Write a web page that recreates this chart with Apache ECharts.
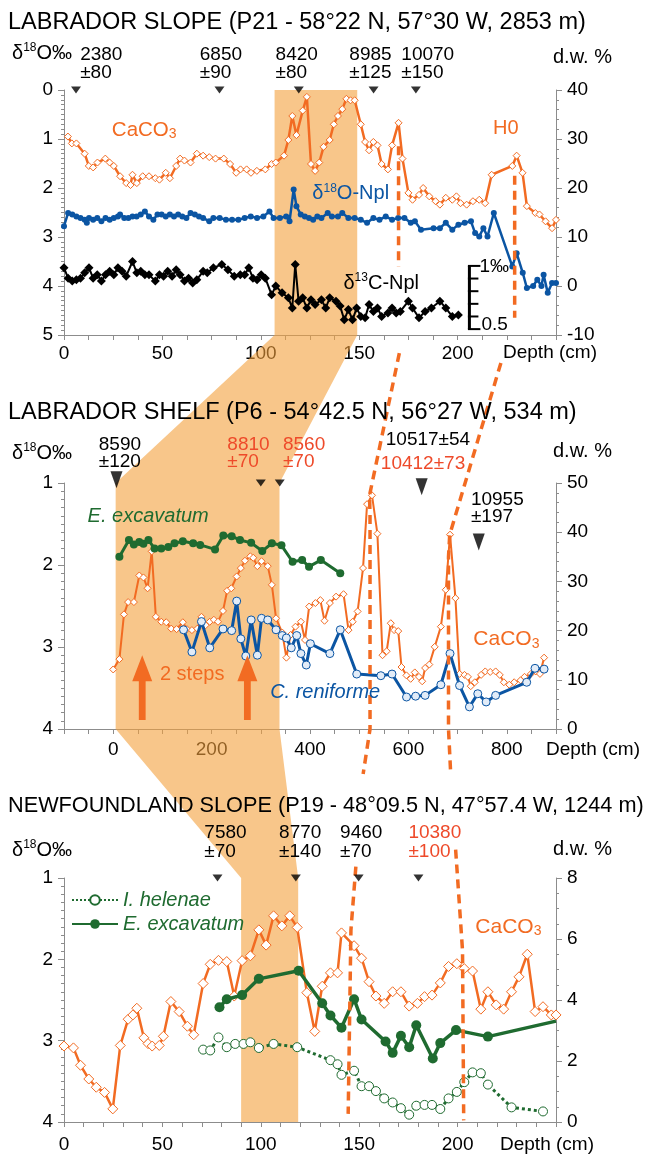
<!DOCTYPE html>
<html>
<head>
<meta charset="utf-8">
<script src="https://cdn.jsdelivr.net/npm/echarts@6/dist/echarts.min.js"></script>
<style>
  html, body { margin: 0; padding: 0; background: #fff; }
  #chart { width: 645px; height: 1155px; }
</style>
</head>
<body>
<div id="chart"></div>
<script>
// ---- P21 Labrador slope ----
const p21CaDepth = [2,4,6.3,10.5,12.6,14.8,17,21,23.2,25.3,28.5,31.6,33.8,34.8,37,40,43.2,46.4,48.5,51.7,53.8,57,59,61.2,64.3,67.5,70.7,73.8,77,81.2,84.4,87.5,89.7,92.8,95,98,102.3,105.5,107.6,111.8,114,116,118.1,121.3,123.4,125.5,127.6,129.7,131.9,135,137.1,139.2,141.4,143.5,145.6,147.7,150.8,153,155,157.2,159.3,161.4,164.6,166.7,170,172,175,177.1,180.4,182.5,185.6,188.8,191,194,197.3,199.4,201.5,204.6,207.8,211,214,217.3,227.8,230,233,235.2,239.5,241.6,244.7,248,250]
const p21CaValue = [30.5,29.1,29.1,27,24.5,24.2,25.2,26,25.2,24.5,22.4,21,20.6,22.7,21,22.4,22.4,22,21.7,23.1,22,24.5,26,25.6,25.2,27,26.6,26.3,26,26,24.9,23.1,23.8,23.8,23.1,23.5,23.8,24.9,25.2,26.6,29.8,34.7,30.8,35.8,38.6,24.9,23.5,25.2,28.4,29.8,33,34.7,36.1,38.2,37.9,37.9,33,29.4,27.7,29.4,28.7,24.9,23.8,28.7,33.3,26,19,17.6,18.6,20,18.3,17.3,16.6,18,17.6,18.3,16.9,16.6,17.3,17.6,16.9,22.7,24.5,26.6,23.1,16.3,14.9,14.6,13.2,11.8,13.5]
const p21NplDepth = [0,2.1,4.2,6.3,8.4,10.5,11.6,12.7,14.8,16.9,19,21.1,23.2,25.3,27.4,28.5,30.6,32.7,34.8,36.9,39,41.1,43.2,45.4,47.5,49.6,51.7,53.8,55.9,58,60.1,62.2,64.3,66.5,68.6,70.7,73.8,75.9,79.1,82.3,85.4,88.6,91.8,94.9,98.1,101.3,104.4,106.5,109.7,112.9,114.6,116.7,118.1,120.3,122.4,124.5,126.6,128.7,130.8,134,136.1,139.2,141.4,144.5,147.7,150.8,154,157.2,160.3,163.5,166.7,169.8,173,176.2,178.3,181.4,187.8,191,194,197.3,200.4,203.6,206.8,208.9,211,213.1,215.2,218.4,227.8,230,233.1,235.2,238.4,240.5,242.6,243.7,245.8,248,250]
const p21NplO18 = [2.78,2.51,2.54,2.58,2.61,2.65,2.71,2.61,2.65,2.61,2.68,2.61,2.65,2.61,2.58,2.54,2.61,2.61,2.58,2.58,2.54,2.48,2.58,2.65,2.54,2.54,2.58,2.54,2.58,2.54,2.58,2.61,2.51,2.54,2.58,2.61,2.68,2.61,2.61,2.65,2.65,2.65,2.61,2.58,2.61,2.58,2.48,2.61,2.61,2.58,2.68,2.03,2.37,2.54,2.58,2.61,2.65,2.58,2.61,2.51,2.58,2.58,2.51,2.61,2.61,2.65,2.71,2.61,2.65,2.58,2.65,2.61,2.61,2.71,2.68,2.85,2.82,2.82,2.71,2.85,2.75,2.71,2.68,2.92,2.99,2.82,2.99,2.51,3.6,3.33,3.73,4.04,4.0,3.87,4.0,3.77,4.14,3.94,3.94]
// d13C drawn on the d18O scale (see the 0.5 permil bar)
const p21C13Depth = [0,2.1,4.2,6.3,8.4,10.5,12.7,14.8,16.9,19,21.1,23.2,25.3,27.4,29.5,31.6,34.8,37,39,41.1,43.2,46.4,48.5,50.6,52.7,54.9,57,59,61.2,63.3,65.4,67.5,70.7,72.8,75.9,80.2,83.3,86.5,89.6,91.8,93.9,96,98.1,100.2,102.3,105.5,107.6,110.8,114,116,117.5,119.2,121.3,123.4,125.5,127.6,130.8,133,135,138.2,140.3,142.4,144.5,146.6,148.7,150.8,153,155,157.2,159.3,161.4,164.6,166.7,168.8,170.9,175,177.1,180.4,183.5,186.7,191,194,197.3,200.4]
const p21C13Plot = [3.63,3.84,3.9,3.87,3.84,3.73,3.63,3.84,3.77,3.9,3.77,3.7,3.77,3.63,3.7,3.8,3.5,3.73,3.7,3.77,3.77,3.9,3.77,3.8,3.7,3.8,3.67,3.77,3.9,3.84,3.94,3.87,3.7,3.73,3.63,3.56,3.67,3.8,3.77,3.77,3.63,3.84,3.87,3.77,3.84,4.18,4.0,4.14,4.24,4.45,3.56,4.31,4.24,4.45,4.28,4.38,4.28,4.45,4.24,4.31,4.41,4.69,4.48,4.69,4.45,4.62,4.65,4.38,4.52,4.45,4.62,4.55,4.45,4.55,4.52,4.31,4.45,4.65,4.52,4.45,4.31,4.45,4.62,4.59]
const p21AgeDepth = [6.1, 79, 119.3, 157.3, 178.8]
const p21AgeText = ['2380\n±80', '6850\n±90', '8420\n±80', '8985\n±125', '10070\n±150']
const p21AgeTextDepth = [8.2, 69, 107.5, 145, 171.4]

// ---- P6 Labrador shelf ----
const p6CaDepth = [0,12.6,21.9,30.3,42.1,53,61.5,69.9,78.3,86.7,97.7,107.8,117.9,128.8,141.5,149.9,160,171,179.4,187.8,196.2,204.6,213,223.2,231.6,240,251,259.4,267.8,278.7,284.6,293,301.5,314.1,322.5,331,343.6,352,360.4,370.5,381.5,389.9,398.3,410.9,421,429.5,440.4,453,468.2,478.3,486.7,496.8,507.8,516,526,537,547.4,555.8,564.2,571,579.4,586,596,604.6,613,621.5,628,634,642.5,653.5,666,676,684.6,695.6,704,714,721,726.7,735,747.8,756.2,766.3,777.3,785.7,794,805,815,828,836,849,859,867.4,875.8]
const p6CaValue = [12.1,14.2,23.3,25.8,25.8,31.2,30.8,28.6,36.1,22.8,21.8,21.7,20.4,20.3,21.7,20.3,20.1,20.4,22.8,21.1,21.8,22.2,21.8,24,28.1,28.6,31,32.7,34.2,35.1,34.8,33.1,34.1,33.1,29.3,22.5,19.6,14.5,19.1,20.8,21.8,18.1,24.9,25.6,26.2,22,25.6,26.9,27.4,20.1,21.8,23.9,32.7,45.7,47.5,39.7,15,15.8,21.5,20.1,19.9,12.6,10.9,10.2,11.5,10.6,9.7,12.4,13.1,16.7,20.8,28.3,39.5,26.6,11.2,11,10.6,8.7,9.5,11,11.7,11.6,11.7,11,9.5,9,9.5,9.9,10.6,11.2,11.7,11.2,14.5]
const p6CrenDepth = [143,160,179.4,196.2,223.2,240.8,251,259.4,269.5,280.4,293,301.5,314.1,331,343.6,352,362,373,381.5,392.4,400.8,440.4,461.5,495,544,566.7,596.2,614.7,634,666,684.6,704,724,741,758,777.3,840.4,857.3,875.8]
const p6CrenO18 = [2.79,3.06,2.69,3.01,2.78,2.8,2.44,2.9,3.11,2.67,3.1,2.65,2.67,2.79,2.86,2.89,3.01,2.86,3.08,3.22,2.96,3.08,2.79,3.33,3.35,3.33,3.61,3.6,3.59,3.46,3.08,3.47,3.73,3.57,3.67,3.59,3.43,3.26,3.27]
const p6ExcaDepth = [12.6,32,42,53,61.5,71.6,84,97.7,112,124.6,141.5,162.5,176.8,207,223.8,240.8,257.7,280.4,303,322.5,342,364.6,384,398,422,461.5]
const p6ExcaO18 = [1.9,1.695,1.75,1.72,1.74,1.695,1.8,1.8,1.78,1.735,1.71,1.735,1.755,1.81,1.64,1.65,1.695,1.73,1.83,1.735,1.76,1.96,1.94,2.02,1.94,2.1]
const p6AgeDepth = [6.7, 300, 338.5, 627, 743]
const p6AgeLevel = [0.96, 1, 1, 1.045, 1.72]
const p6AgeBig = [true, false, false, true, true]
const p6AgeText = ['8590\n±120', '8810\n±70', '8560\n±70', '10517±54', '10412±73', '10955\n±197']
const p6AgeTextDepth = [-29.3, 232, 345, 554, 544, 727]
const p6AgeTextLevel = [0.64, 0.64, 0.64, 0.476, 0.77, 1.31]
const p6AgeTextRed = [false, true, true, false, true, false]
const p6StepDepth = [59, 272.7]

// ---- P19 Newfoundland slope ----
const p19CaDepth = [0,4.8,8.4,12.6,16.4,20.6,24.8,28.6,32.6,35,37,40.6,42.7,44.8,48.4,50.5,54.3,58.5,62.7,65.9,70.7,74.3,78.5,82.7,86.5,90.5,94.7,99,102.7,106.5,110.7,114.7,118.5,123.4,127.4,131.2,135.4,139,141,147.4,151.2,155,158.5,162.7,167,171.2,175.4,179.6,183.2,187,191.2,195.4,199.6,203.4,207.6,211.8,215.4,219.6,223.4,227.4,231.2,235.4,239.4,243.4,247.6,250]
const p19CaValue = [2.49,2.43,1.86,1.41,1.14,0.97,0.43,2.51,3.37,3.51,3.73,2.76,2.57,2.49,2.51,2.81,3.95,3.62,3.14,2.86,4.54,5.17,5.3,5.26,4.13,5.29,5.45,6.3,5.8,6.76,6.43,6.76,6.38,4.24,2.97,4.45,4.89,4.89,6.2,5.78,5.37,4.6,4.13,3.89,4.27,4.27,3.8,3.89,4.11,4.16,4.56,5.1,5.19,5.03,4.95,3.7,4.27,3.84,3.7,4.27,4.76,5.5,3.62,3.78,3.51,3.51]
const p19HeleDepth = [70.7,74.3,78.5,82.7,87,91.2,94.7,99,106.5,118.5,135.4,139,141,147.4,151.2,155,158.5,162.7,167,171.2,175.4,179,183.2,187,191.2,195.4,199.6,203.4,207.6,211.8,215.4,227.4,243.4]
const p19HeleO18 = [3.11,3.12,2.96,3.08,3.04,3.04,3.02,3.09,3.04,3.08,3.24,3.29,3.42,3.37,3.56,3.56,3.62,3.71,3.76,3.83,3.91,3.8,3.79,3.79,3.84,3.71,3.63,3.51,3.39,3.4,3.54,3.82,3.87]
const p19ExcaDepth = [79,82.7,90.5,99,119.2,131.2,135.4,141,147.4,151.2,163.4,167,171.2,175.4,179,187.4,191.2,199.2,215.4,250]
const p19ExcaO18 = [2.59,2.49,2.44,2.24,2.14,2.54,2.69,2.84,2.49,2.74,3.01,3.15,2.94,3.08,2.81,3.22,3.03,2.87,2.95,2.76]
const p19AgeDepth = [78, 117.8, 149.7, 180.1]
const p19AgeText = ['7580\n±70', '8770\n±140', '9460\n±70', '10380\n±100']
const p19AgeTextDepth = [71.3, 109.3, 140.3, 175]
const p19AgeTextRed = [false, false, false, true]

// correlated intervals (depth ranges) and tie lines [panel, depth, d18O level]
const bandP21 = [107, 149]
const bandP6 = [5, 338]
const bandP19 = [90, 119]
const tieLines = [
  [[0, 170, 1.15], [0, 170, 3.6]],
  [[0, 170.4, 5.37], [1, 521, 1.15], [1, 522, 1.4], [1, 522, 4.0], [1, 508, 4.55]],
  [[2, 148.3, 0.86], [2, 145.8, 1.64], [2, 144.4, 3.9]],
  [[0, 229, 1.75], [0, 229, 4.65]],
  [[0, 222, 5.57], [1, 684, 1.63], [1, 681.5, 1.9], [1, 681.5, 4.0], [1, 686, 4.55]],
  [[2, 199, 0.65], [2, 202.5, 1.89], [2, 203.1, 3.98]]
]

const FONT = '"Liberation Sans", Arial, Helvetica, sans-serif'
const ORANGE = '#f26b22'
const BLUE = '#0b55a3'
const GREEN = '#1f6b30'
const RED = '#ee4a2a'
const AXIS = '#8c8c8c'

function zip (xs, ys) {
  return xs.map((x, i) => [x, ys[i]])
}

function xAxisOf (grid, min, max, interval, every) {
  return {
    type: 'value', gridIndex: grid, min: min, max: max, interval: interval,
    axisLine: { onZero: false, lineStyle: { color: AXIS } },
    axisTick: { length: 5, lineStyle: { color: AXIS } },
    axisLabel: {
      color: '#000', fontSize: 19, fontFamily: FONT, margin: grid === 0 ? 9 : (grid === 1 ? 11 : 13),
      formatter: (v) => (Math.abs(v % every) < 1e-6 && v >= 0 && v < max) ? String(v) : ''
    },
    splitLine: { show: false }
  }
}

function yAxisOf (grid, side, min, max, interval, minor) {
  return {
    type: 'value', gridIndex: grid, position: side, inverse: side === 'left',
    min: min, max: max, interval: interval,
    axisLine: { show: true, onZero: false, lineStyle: { color: AXIS } },
    axisTick: { show: true, length: 6, lineStyle: { color: AXIS } },
    minorTick: { show: true, splitNumber: minor, length: 3, lineStyle: { color: AXIS } },
    axisLabel: { color: '#000', fontSize: 19, fontFamily: FONT, margin: 11 },
    splitLine: { show: false }
  }
}

function ageSeries (grid, depths, levels, sizes) {
  return {
    type: 'scatter', xAxisIndex: grid, yAxisIndex: grid * 2, clip: false, z: 6,
    symbol: 'triangle', symbolRotate: 180,
    itemStyle: { color: '#000' },
    data: depths.map((d, i) => ({ value: [d, levels[i]], symbolSize: sizes[i] })),
    silent: true
  }
}

const chart = echarts.init(document.getElementById('chart'))

chart.setOption({
  animation: false,
  backgroundColor: '#fff',
  grid: [
    { left: 64, width: 492, top: 90, height: 245 },
    { left: 64, width: 492, top: 483, height: 246 },
    { left: 64, width: 492, top: 878, height: 244 }
  ],
  xAxis: [
    xAxisOf(0, 0, 250, 12.5, 50),
    xAxisOf(1, -100, 900, 50, 200),
    xAxisOf(2, 0, 250, 10, 50)
  ],
  yAxis: [
    yAxisOf(0, 'left', 0, 5, 1, 10),
    yAxisOf(0, 'right', -10, 40, 10, 5),
    yAxisOf(1, 'left', 1, 4, 1, 10),
    yAxisOf(1, 'right', 0, 50, 10, 5),
    yAxisOf(2, 'left', 1, 4, 1, 10),
    yAxisOf(2, 'right', 0, 8, 2, 4)
  ],
  legend: {
    orient: 'vertical', left: 66, top: 885, itemWidth: 46, itemHeight: 12, itemGap: 4,
    selectedMode: false,
    textStyle: { color: GREEN, fontSize: 20, fontStyle: 'italic', fontFamily: FONT },
    data: ['I. helenae', 'E. excavatum']
  },
  series: [
    {
      name: 'CaCO3 P21', type: 'line', xAxisIndex: 0, yAxisIndex: 1, z: 3,
      data: zip(p21CaDepth, p21CaValue),
      symbol: 'diamond', symbolSize: 7,
      itemStyle: { color: '#fff', borderColor: ORANGE, borderWidth: 1 },
      lineStyle: { color: ORANGE, width: 2.5 }
    },
    {
      name: 'd18O-Npl', type: 'line', xAxisIndex: 0, yAxisIndex: 0, z: 3,
      data: zip(p21NplDepth, p21NplO18),
      symbol: 'circle', symbolSize: 6,
      itemStyle: { color: BLUE },
      lineStyle: { color: BLUE, width: 2.5 }
    },
    {
      name: 'd13C-Npl', type: 'line', xAxisIndex: 0, yAxisIndex: 0, z: 3,
      data: zip(p21C13Depth, p21C13Plot),
      symbol: 'diamond', symbolSize: 9,
      itemStyle: { color: '#000' },
      lineStyle: { color: '#000', width: 2 }
    },
    ageSeries(0, p21AgeDepth, p21AgeDepth.map(() => 0), p21AgeDepth.map(() => [10, 7])),
    {
      name: 'CaCO3 P6', type: 'line', xAxisIndex: 1, yAxisIndex: 3, z: 3,
      data: zip(p6CaDepth, p6CaValue),
      symbol: 'diamond', symbolSize: 7,
      itemStyle: { color: '#fff', borderColor: ORANGE, borderWidth: 1 },
      lineStyle: { color: ORANGE, width: 2 }
    },
    {
      name: 'C. reniforme', type: 'line', xAxisIndex: 1, yAxisIndex: 2, z: 4,
      data: zip(p6CrenDepth, p6CrenO18),
      symbol: 'circle', symbolSize: 8,
      itemStyle: { color: '#e2ecf8', borderColor: BLUE, borderWidth: 1 },
      lineStyle: { color: BLUE, width: 3 }
    },
    {
      name: 'E. excavatum P6', type: 'line', xAxisIndex: 1, yAxisIndex: 2, z: 4,
      data: zip(p6ExcaDepth, p6ExcaO18),
      symbol: 'circle', symbolSize: 8,
      itemStyle: { color: GREEN },
      lineStyle: { color: GREEN, width: 3 }
    },
    ageSeries(1, p6AgeDepth, p6AgeLevel, p6AgeBig.map((b) => b ? [12, 17] : [10, 7])),
    {
      name: 'CaCO3 P19', type: 'line', xAxisIndex: 2, yAxisIndex: 5, z: 3,
      data: zip(p19CaDepth, p19CaValue),
      symbol: 'diamond', symbolSize: 10,
      itemStyle: { color: '#fff', borderColor: ORANGE, borderWidth: 1 },
      lineStyle: { color: ORANGE, width: 2.5 }
    },
    {
      name: 'I. helenae', type: 'line', xAxisIndex: 2, yAxisIndex: 4, z: 4,
      data: zip(p19HeleDepth, p19HeleO18),
      symbol: 'circle', symbolSize: 9,
      itemStyle: { color: '#fff', borderColor: GREEN, borderWidth: 1 },
      lineStyle: { color: GREEN, width: 3, type: 'dotted' }
    },
    {
      name: 'E. excavatum', type: 'line', xAxisIndex: 2, yAxisIndex: 4, z: 4,
      // the curve runs on past the axis edge, so the last point gets no marker
      data: zip(p19ExcaDepth, p19ExcaO18).map((p, i, a) => i === a.length - 1 ? { value: p, symbol: 'none' } : p),
      symbol: 'circle', symbolSize: 10,
      itemStyle: { color: GREEN },
      lineStyle: { color: GREEN, width: 3.5 }
    },
    ageSeries(2, p19AgeDepth, p19AgeDepth.map(() => 1), p19AgeDepth.map(() => [10, 7]))
  ]
})

// ---- annotations placed through the axes ----
function P (g, x, y) {
  return chart.convertToPixel({ xAxisIndex: g, yAxisIndex: g * 2 }, [x, y])
}

function rich (color, size) {
  return {
    n: { fill: color, fontSize: size, fontFamily: FONT, lineHeight: size + 2 },
    p: { fill: color, fontSize: Math.round(size * 0.62), fontFamily: FONT, lineHeight: Math.round(size * 0.62), verticalAlign: 'top' },
    s: { fill: color, fontSize: Math.round(size * 0.68), fontFamily: FONT, lineHeight: Math.round(size * 0.68), verticalAlign: 'bottom' }
  }
}

function T (pt, text, o) {
  o = o || {}
  const size = o.size || 19
  return {
    type: 'text', x: pt[0], y: pt[1], z: 10, silent: true,
    style: {
      text: text, fill: o.color || '#000', fontSize: size, fontFamily: FONT,
      fontStyle: o.italic ? 'italic' : 'normal',
      align: o.align || 'left', verticalAlign: o.va || 'middle',
      lineHeight: o.lh || size, rich: o.rich ? rich(o.color || '#000', size) : undefined
    }
  }
}

const g = []

// shaded intervals and their connections between cores
g.push({
  type: 'polygon', z: 1, silent: true,
  shape: {
    points: [
      P(0, bandP21[0], 0), P(0, bandP21[1], 0), P(0, bandP21[1], 5),
      P(1, bandP6[1], 1), P(1, bandP6[1], 4),
      P(2, bandP19[1], 1), P(2, bandP19[1], 4), P(2, bandP19[0], 4), P(2, bandP19[0], 1),
      P(1, bandP6[0], 4), P(1, bandP6[0], 1),
      P(0, bandP21[0], 5)
    ]
  },
  style: { fill: 'rgba(243,160,60,0.6)' }
})

tieLines.forEach((line) => {
  g.push({
    type: 'polyline', z: 5, silent: true,
    shape: { points: line.map((p) => P(p[0], p[1], p[2])) },
    style: { stroke: ORANGE, lineWidth: 3.5, lineDash: [9, 6], fill: null }
  })
})

// "2 steps" arrows
p6StepDepth.forEach((d) => {
  const tip = P(1, d, 3.1)
  const base = P(1, d, 3.89)
  const x = tip[0]
  const hy = tip[1] + 26
  g.push({
    type: 'polygon', z: 6, silent: true,
    shape: { points: [[x, tip[1]], [x + 10, hy], [x + 3.4, hy], [x + 3.4, base[1]], [x - 3.4, base[1]], [x - 3.4, hy], [x - 10, hy]] },
    style: { fill: ORANGE }
  })
})

// 0.5 permil bar for d13C
const barTop = P(0, 206, 3.59)
const barBot = P(0, 206, 4.88)
g.push({ type: 'line', z: 6, shape: { x1: barTop[0], y1: barTop[1], x2: barBot[0], y2: barBot[1] }, style: { stroke: '#000', lineWidth: 3 } })
for (let i = 0; i <= 5; i++) {
  const y = barTop[1] + (barBot[1] - barTop[1]) * i / 5
  const len = (i === 0 || i === 5) ? 11 : 9
  g.push({ type: 'line', z: 6, shape: { x1: barTop[0] - 1.5, y1: y, x2: barTop[0] + len, y2: y }, style: { stroke: '#000', lineWidth: 2 } })
}
g.push(T([barTop[0] + 10, barTop[1] + 1], '1‰', { size: 19 }))
g.push(T([barBot[0] + 12, barBot[1] - 4], '0.5', { size: 19 }))

// titles and axis names
g.push(T([8, 23], 'LABRADOR SLOPE (P21 - 58°22 N, 57°30 W, 2853 m)', { size: 23.5 }))
g.push(T([8, 413], 'LABRADOR SHELF (P6 - 54°42.5 N, 56°27 W, 534 m)', { size: 23.5 }))
g.push(T([8, 806], 'NEWFOUNDLAND SLOPE (P19 - 48°09.5 N, 47°57.4 W, 1244 m)', { size: 21.7 }))
;[53, 453, 850].forEach((y) => g.push(T([12, y], '{n|δ}{p|18}{n|O‰}', { size: 20, rich: true })))
;[57, 451, 849].forEach((y) => g.push(T([553, y], 'd.w. %', { size: 20 })))
g.push(T([503, 353], 'Depth (cm)', { size: 19 }))
g.push(T([546, 750], 'Depth (cm)', { size: 19 }))
g.push(T([500, 1145], 'Depth (cm)', { size: 19 }))

// radiocarbon ages
p21AgeText.forEach((t, i) => g.push(T(P(0, p21AgeTextDepth[i], -0.54), t, { lh: 18 })))
p6AgeText.forEach((t, i) => g.push(T(P(1, p6AgeTextDepth[i], p6AgeTextLevel[i]), t, { lh: 17.5, color: p6AgeTextRed[i] ? RED : '#000' })))
p19AgeText.forEach((t, i) => g.push(T(P(2, p19AgeTextDepth[i], 0.56), t, { lh: 18.5, color: p19AgeTextRed[i] ? RED : '#000' })))

// curve names
g.push(T(P(0, 24.3, 0.82), '{n|CaCO}{s|3}', { size: 20.5, color: ORANGE, rich: true }))
g.push(T(P(0, 218, 0.78), 'H0', { size: 20, color: ORANGE }))
g.push(T(P(0, 126.2, 2.11), '{n|δ}{p|18}{n|O-Npl}', { size: 20, color: BLUE, rich: true }))
g.push(T(P(0, 142, 3.94), '{n|δ}{p|13}{n|C-Npl}', { size: 20, color: '#000', rich: true }))
g.push(T(P(1, -52, 1.41), 'E. excavatum', { size: 20, color: GREEN, italic: true }))
g.push(T(P(1, 319, 3.56), 'C. reniforme', { size: 20, color: BLUE, italic: true }))
g.push(T(P(1, 732, 2.91), '{n|CaCO}{s|3}', { size: 21, color: ORANGE, rich: true }))
g.push(T(P(1, 95, 3.34), '2 steps', { size: 20, color: ORANGE }))
g.push(T(P(2, 209, 1.6), '{n|CaCO}{s|3}', { size: 21, color: ORANGE, rich: true }))

chart.setOption({ graphic: { elements: g } })
</script>
</body>
</html>
